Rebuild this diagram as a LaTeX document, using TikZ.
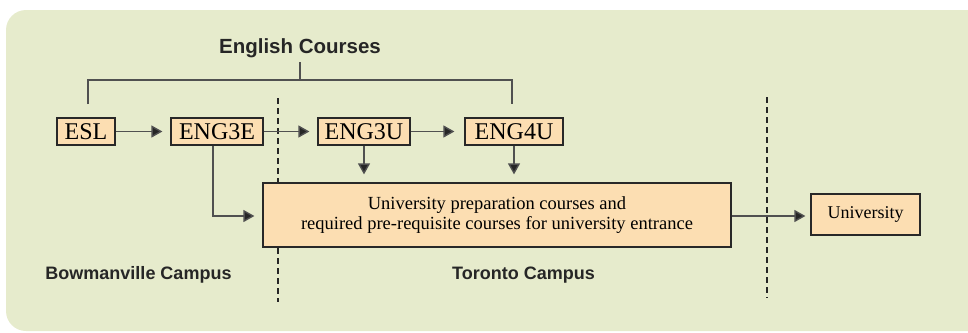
\documentclass[tikz,border=0pt]{standalone}
\usepackage{fontspec}
\setmainfont{Liberation Serif}
\newfontfamily\labelfont{Liberation Sans}
\usetikzlibrary{arrows.meta}
\definecolor{bgcol}{RGB}{230,235,204}
\definecolor{peach}{RGB}{252,222,178}
\definecolor{edgecol}{RGB}{40,40,40}
\definecolor{linecol}{RGB}{80,80,80}
\begin{document}
\begin{tikzpicture}[x=1pt,y=-1pt,
  course/.style={draw=edgecol, fill=peach, line width=1.2pt, inner sep=0pt,
    minimum height=27pt, font=\fontsize{24}{26}\selectfont},
  bigbox/.style={draw=edgecol, fill=peach, line width=1.2pt, inner sep=0pt,
    align=center, font=\fontsize{18.5}{20.5}\selectfont},
  campus/.style={font=\labelfont\bfseries\fontsize{18}{20}\selectfont, text=black!85, inner sep=0pt},
  conn/.style={draw=linecol, line width=1.4pt},
  arr/.style={conn, -{Triangle[length=11pt,width=12pt,fill=black!85]}, shorten >=8pt},
  divider/.style={draw=black!85, line width=1.1pt, dash pattern=on 6pt off 4pt}
]
\useasboundingbox (0,0) rectangle (968,332);
\clip (0,0) rectangle (968,332);
\fill[bgcol, rounded corners=20pt] (6,10) rectangle (1000,331);

% dividers
\draw[divider] (278,98) -- (278,302);
\draw[divider] (767,97) -- (767,298);

% title and bracket
\node[font=\labelfont\bfseries\fontsize{20.5}{22}\selectfont, text=black!85, inner sep=0pt] (title) at (300,48) {English Courses};
\coordinate (brL) at (88,104);
\coordinate (brR) at (512,104);
\coordinate (brM) at (300,80);
\coordinate (brT) at (300,62);
\draw[conn, line width=1.2pt] (brL) -- (brL |- brM) -- (brR |- brM) -- (brR);
\draw[conn, line width=1.2pt] (brT) -- (brM);

% course boxes
\node[course, minimum width=58pt] (esl) at (86,131.5) {ESL};
\node[course, minimum width=92pt] (e3e) at (217,131.5) {ENG3E};
\node[course, minimum width=92pt] (e3u) at (364,131.5) {ENG3U};
\node[course, minimum width=98pt] (e4u) at (514,131.5) {ENG4U};

\node[bigbox, minimum width=468pt, minimum height=64pt] (big) at (497,215)
  {University preparation courses and\\required pre-requisite courses for university entrance};

\node[course, minimum width=109pt, minimum height=41pt, font=\fontsize{18}{20}\selectfont] (uni) at (865.5,214.5) {University};

% arrows
\draw[arr] (esl) -- (e3e);
\draw[arr] (e3e) -- (e3u);
\draw[arr, shorten >=10pt] (e3u) -- (e4u);
\draw[arr] (e3u.south) -- (e3u.south |- big.north);
\draw[arr] (e4u.south) -- (e4u.south |- big.north);
\draw[arr] ([xshift=-4pt]e3e.south) |- ([yshift=-1pt]big.west);
\draw[arr, shorten >=5pt] ([yshift=-1pt]big.east) -- ([yshift=-1pt]big.east -| uni.west);

% campus labels
\node[campus] (bow) at (138.5,275) {Bowmanville Campus};
\node[campus] (tor) at (523.5,275) {Toronto Campus};
\end{tikzpicture}
\end{document}
